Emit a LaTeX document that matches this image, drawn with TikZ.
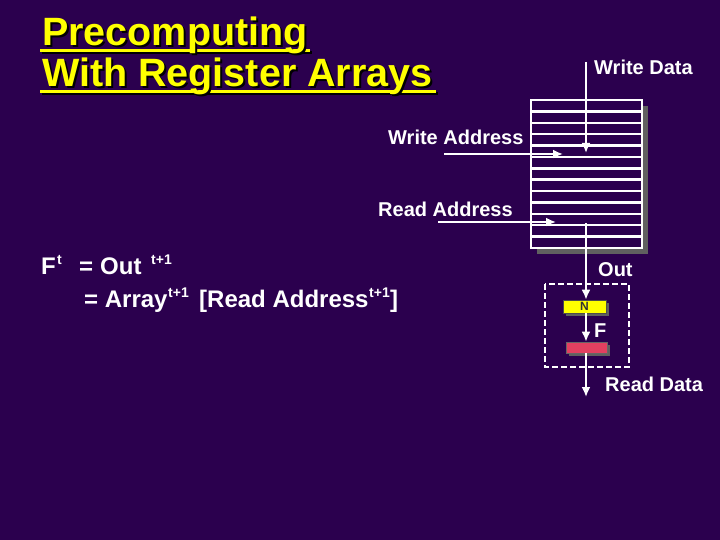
\documentclass[tikz,border=0pt]{standalone}
\usepackage{fontspec}
\setmainfont{Liberation Sans}
\usetikzlibrary{arrows.meta}
\definecolor{bg}{RGB}{43,0,78}
\definecolor{shadowgray}{RGB}{96,96,96}
\definecolor{titleyellow}{RGB}{255,255,0}
\definecolor{fred}{RGB}{226,64,96}
\newcommand{\shadowtext}[1]{\rlap{\kern2pt\raisebox{-2pt}{\textcolor{black}{#1}}}#1}
\tikzset{
  lbl/.style={text=white, font=\bfseries\fontsize{20}{24}\selectfont, anchor=base west, inner sep=0pt},
  eq/.style={text=white, font=\bfseries\fontsize{24}{28}\selectfont, anchor=base west, inner sep=0pt},
  sup/.style={text=white, font=\bfseries\fontsize{14}{16}\selectfont, anchor=base west, inner sep=0pt},
  ttl/.style={text=titleyellow, font=\bfseries\fontsize{39.5}{46}\selectfont, anchor=base west, inner sep=0pt},
  wire/.style={white, line width=2.4pt},
  arr/.style={wire, -{Latex[length=10pt,width=9pt]}},
}
\begin{document}
\begin{tikzpicture}[x=1pt,y=-1pt]
\fill[bg] (0,0) rectangle (720,540);
\useasboundingbox (0,0) rectangle (720,540);

% title with shadow and underline
\draw[black, line width=3pt] (42,53) -- (312,53);
\draw[black, line width=3pt] (42,94) -- (438,94);
\draw[titleyellow, line width=3pt] (40,51) -- (310,51);
\draw[titleyellow, line width=3pt] (40,92) -- (436,92);
\node[ttl] (t1) at (42,46) {\shadowtext{Precomputing}};
\node[ttl] (t2) at (42,87) {\shadowtext{With Register Arrays}};

% register array
\fill[shadowgray] (537,106) rectangle (648,254);
\node[draw=white, line width=2.4pt, fill=bg, minimum width=111pt, minimum height=148pt, inner sep=0pt] (array) at (586.5,174) {};
\foreach \k in {1,...,12}{
  \draw[wire] (531,{100+\k*148/13}) -- (642,{100+\k*148/13});
}

% labels
\node[lbl] (wdl) at (594,75) {Write Data};
\node[lbl] (wal) at (388,145) {Write Address};
\node[lbl] (ral) at (378,216) {Read Address};
\node[lbl] (outl) at (598,276) {Out};
\node[lbl] (fl) at (594,337) {F};
\node[lbl] (rdl) at (605,391) {Read Data};

% connector endpoints
\coordinate (wdtop) at (586,62);
\coordinate (wdend) at (586,153);
\coordinate (wastart) at (444,154);
\coordinate (waend) at (563,154);
\coordinate (rastart) at (438,222);
\coordinate (raend) at (556,222);
\coordinate (outstart) at (586,223);
\coordinate (rdend) at (586,397);

\draw[arr] (wdtop) -- (wdend);
\draw[arr] (wastart) -- (waend);
\draw[arr] (rastart) -- (raend);

% output stage
\draw[white, line width=2.4pt, dash pattern=on 6pt off 3pt] (545,284) rectangle (629,367);
\fill[shadowgray] (566,303) rectangle (609,316);
\node[fill=titleyellow, draw=black!70, line width=0.6pt, minimum width=43pt, minimum height=13pt, inner sep=0pt,
      font=\bfseries\fontsize{12}{14}\selectfont, text=black!80] (nbox) at (584.5,306.5) {N};
\fill[shadowgray] (569,345) rectangle (610,356);
\node[fill=fred, draw=black!60, line width=0.6pt, minimum width=41pt, minimum height=11pt, inner sep=0pt] (fbox) at (586.5,347.5) {};

\draw[arr] (outstart) -- (nbox.north -| outstart);
\draw[arr] (nbox.south -| outstart) -- (fbox.north -| outstart);
\draw[arr] (fbox.south -| outstart) -- (rdend);

% equation
\node[eq] (e1) at (41,274) {F};
\node[sup] (e1s) at (57,264) {t};
\node[eq] (e2) at (79,274) {=};
\node[eq] (e2b) at (100,274) {Out};
\node[sup] (e2s) at (151,264) {t+1};
\node[eq] (e3) at (84,307) {= Array};
\node[sup] (e3s) at (168,297) {t+1};
\node[eq] (e4) at (199,307) {[Read Address};
\node[sup] (e4s) at (369,297) {t+1};
\node[eq] (e5) at (390,307) {]};
\end{tikzpicture}
\end{document}
